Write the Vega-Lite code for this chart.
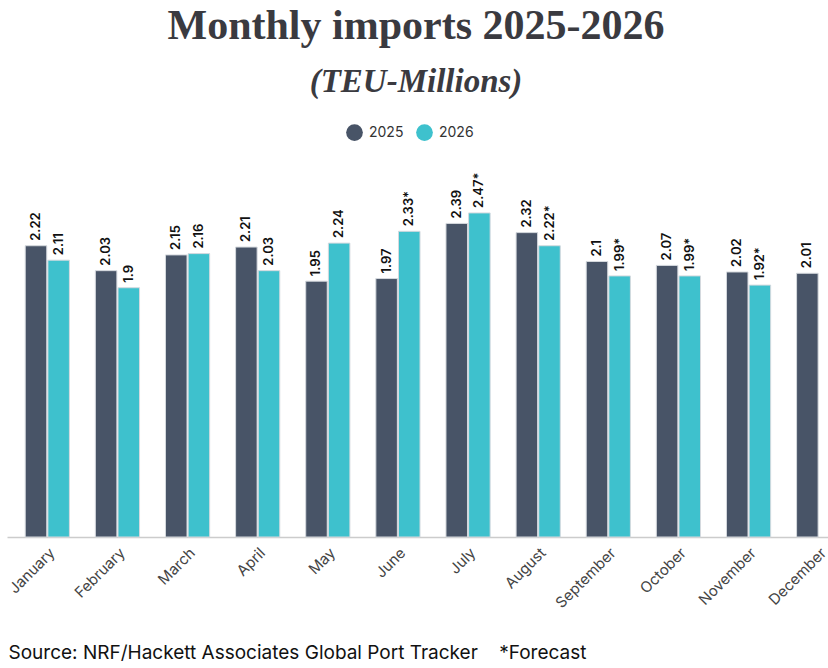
{
  "$schema": "https://vega.github.io/schema/vega-lite/v6.json",
  "width": 852,
  "height": 328,
  "autosize": {"type": "none"},
  "padding": {"left": 7, "top": 209, "right": 0, "bottom": 131},
  "background": "white",
  "config": {"view": {"stroke": null}},
  "title": {
    "text": "Monthly imports 2025-2026",
    "subtitle": "(TEU-Millions)",
    "anchor": "middle",
    "dx": -17,
    "font": "Liberation Serif",
    "fontSize": 42,
    "fontWeight": "bold",
    "color": "#3a3a40",
    "subtitleFont": "Liberation Serif",
    "subtitleFontSize": 33,
    "subtitleFontStyle": "italic",
    "subtitleFontWeight": "bold",
    "subtitleColor": "#3a3a40",
    "subtitlePadding": 18,
    "offset": 24
  },
  "data": {
    "values": [
      {"month": "January", "year": "2025", "value": 2.22, "label": "2.22"},
      {"month": "January", "year": "2026", "value": 2.11, "label": "2.11"},
      {"month": "February", "year": "2025", "value": 2.03, "label": "2.03"},
      {"month": "February", "year": "2026", "value": 1.9, "label": "1.9"},
      {"month": "March", "year": "2025", "value": 2.15, "label": "2.15"},
      {"month": "March", "year": "2026", "value": 2.16, "label": "2.16"},
      {"month": "April", "year": "2025", "value": 2.21, "label": "2.21"},
      {"month": "April", "year": "2026", "value": 2.03, "label": "2.03"},
      {"month": "May", "year": "2025", "value": 1.95, "label": "1.95"},
      {"month": "May", "year": "2026", "value": 2.24, "label": "2.24"},
      {"month": "June", "year": "2025", "value": 1.97, "label": "1.97"},
      {"month": "June", "year": "2026", "value": 2.33, "label": "2.33*"},
      {"month": "July", "year": "2025", "value": 2.39, "label": "2.39"},
      {"month": "July", "year": "2026", "value": 2.47, "label": "2.47*"},
      {"month": "August", "year": "2025", "value": 2.32, "label": "2.32"},
      {"month": "August", "year": "2026", "value": 2.22, "label": "2.22*"},
      {"month": "September", "year": "2025", "value": 2.1, "label": "2.1"},
      {"month": "September", "year": "2026", "value": 1.99, "label": "1.99*"},
      {"month": "October", "year": "2025", "value": 2.07, "label": "2.07"},
      {"month": "October", "year": "2026", "value": 1.99, "label": "1.99*"},
      {"month": "November", "year": "2025", "value": 2.02, "label": "2.02"},
      {"month": "November", "year": "2026", "value": 1.92, "label": "1.92*"},
      {"month": "December", "year": "2025", "value": 2.01, "label": "2.01"}
    ]
  },
  "encoding": {
    "x": {
      "field": "month",
      "type": "nominal",
      "sort": ["January","February","March","April","May","June","July","August","September","October","November","December"],
      "scale": {"paddingInner": 0.37, "paddingOuter": 0.26},
      "axis": {
        "title": "Source: NRF/Hackett Associates Global Port Tracker \u00a0\u00a0\u00a0*Forecast",
        "titleFont": "Inter",
        "titleFontSize": 19,
        "titleFontWeight": "normal",
        "titleColor": "#111111",
        "titleAnchor": "start",
        "titleAlign": "left",
        "titleX": 1,
        "titleY": 106,
        "labelAngle": -45,
        "labelFont": "Inter",
        "labelFontSize": 15,
        "labelColor": "#444444",
        "labelPadding": 8,
        "labelDx": 3,
        "ticks": false,
        "domainColor": "#cccccc",
        "domainWidth": 1.5
      }
    },
    "xOffset": {"field": "year", "type": "nominal", "scale": {"paddingInner": 0.05}},
    "y": {
      "field": "value",
      "type": "quantitative",
      "scale": {"domain": [0, 2.5]},
      "axis": null
    }
  },
  "layer": [
    {
      "mark": {"type": "bar", "stroke": "#d5d9de", "strokeWidth": 1},
      "encoding": {
        "color": {
          "field": "year",
          "type": "nominal",
          "scale": {"domain": ["2025", "2026"], "range": ["#485467", "#3ec1cd"]},
          "legend": {
            "orient": "none",
            "legendX": 339,
            "legendY": -85,
            "direction": "horizontal",
            "title": null,
            "symbolType": "circle",
            "symbolSize": 280,
            "symbolStrokeWidth": 0,
            "labelFont": "Inter",
            "labelFontSize": 14,
            "labelColor": "#333333",
            "columnPadding": 12,
            "labelOffset": 6
          }
        }
      }
    },
    {
      "mark": {
        "type": "text",
        "angle": 270,
        "align": "left",
        "baseline": "middle",
        "dx": 5,
        "font": "Inter",
        "fontSize": 13,
        "fontWeight": 600,
        "color": "#111111"
      },
      "encoding": {
        "text": {"field": "label"}
      }
    }
  ]
}
